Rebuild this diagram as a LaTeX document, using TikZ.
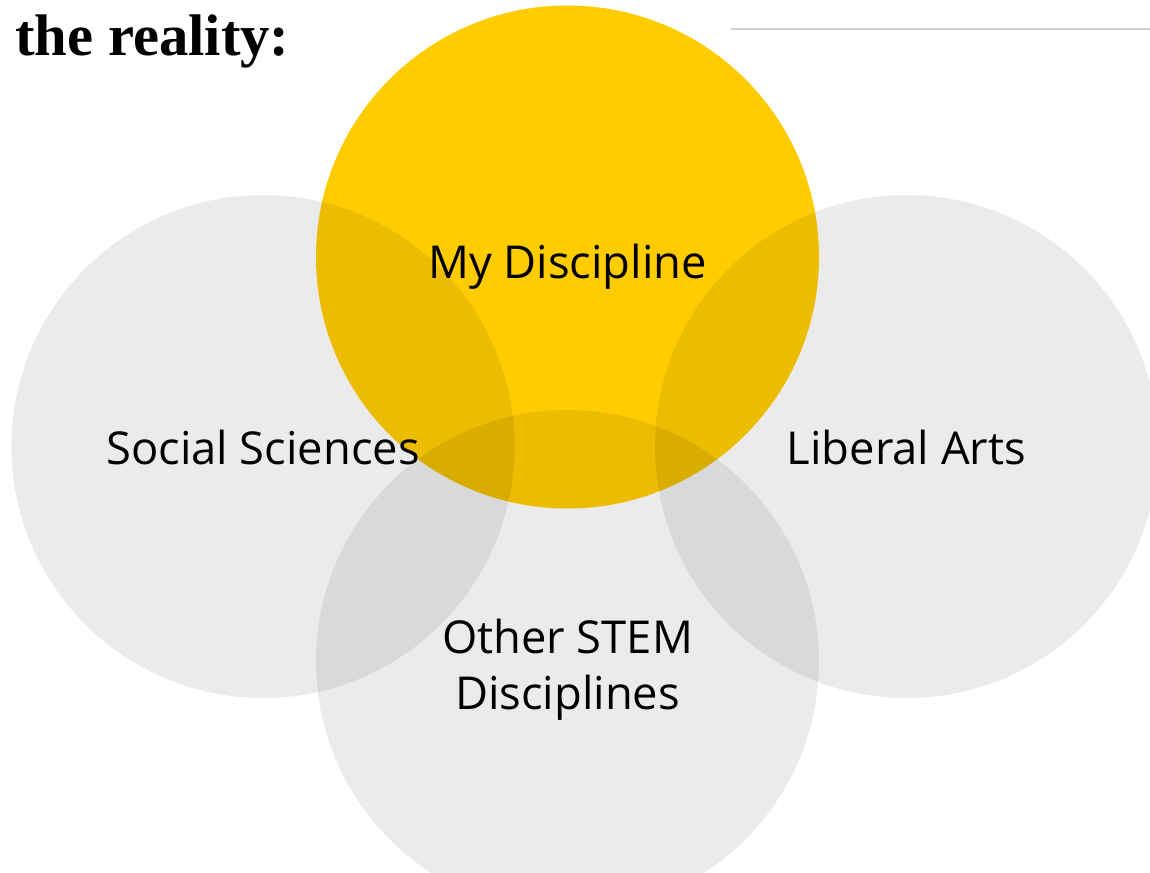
\documentclass[tikz,border=0pt]{standalone}
\usepackage{fontspec}
\setmainfont{Open Sans}
\newfontfamily\titlefont{Liberation Serif}
\definecolor{discyellow}{HTML}{FFCC00}
\definecolor{rulegray}{HTML}{D0D0D0}

\begin{document}
\begin{tikzpicture}[x=0.75pt, y=-0.75pt,
  venn/.style={circle, minimum size=377.25pt, inner sep=0pt},
  field/.style={font=\fontsize{34}{42}\selectfont, align=center}]

\useasboundingbox (0,0) rectangle (1150,872);

% Title and rule
\node[anchor=base west, inner sep=0pt, font=\titlefont\bfseries\fontsize{44}{50}\selectfont] (title) at (15,55) {the reality:};
\coordinate (r_1) at (731,29);
\coordinate (r_2) at (1150,29);
\draw[rulegray, line width=1.6pt] (r_1) -- (r_2);

% Circles
\node[venn, fill=discyellow] (mine) at (567.5,257) {};
\node[venn, fill=black, fill opacity=0.08] (social) at (263,446.5) {};
\node[venn, fill=black, fill opacity=0.08] (liberal) at (906.5,446.5) {};
\node[venn, fill=black, fill opacity=0.08] (stem) at (567.5,661.5) {};

% Labels
\node[field, yshift=-7.5pt] (mine_t) at (mine.center) {My Discipline};
\node[field, yshift=-1pt] (social_t) at (social.center) {Social Sciences};
\node[field, yshift=-1pt] (liberal_t) at (liberal.center) {Liberal Arts};
\node[field, yshift=-6pt] (stem_t) at (stem.center) {Other STEM\\Disciplines};

\end{tikzpicture}
\end{document}
